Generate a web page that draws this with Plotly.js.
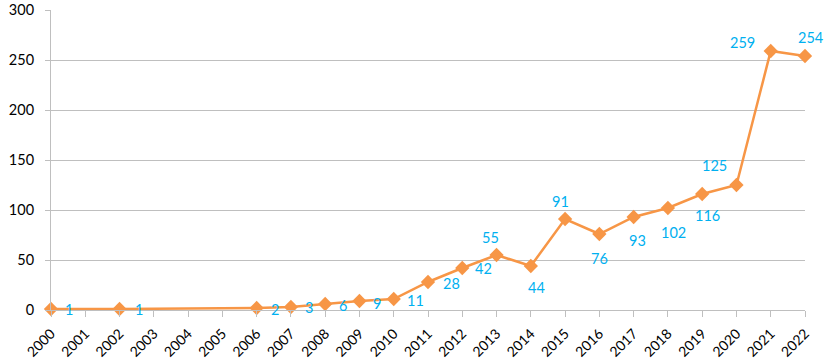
<!DOCTYPE html>
<html>
<head>
<meta charset="utf-8">
<script src="https://cdn.plot.ly/plotly-3.0.1.min.js"></script>
<style>html,body{margin:0;padding:0;background:#fff;}#chart{width:830px;height:363px;}</style>
</head>
<body>
<div id="chart"></div>
<script>
const years = [2000, 2002, 2006, 2007, 2008, 2009, 2010, 2011, 2012, 2013, 2014, 2015, 2016, 2017, 2018, 2019, 2020, 2021, 2022];
const counts = [1, 1, 2, 3, 6, 9, 11, 28, 42, 55, 44, 91, 76, 93, 102, 116, 125, 259, 254];
const tickYears = [2000,2001,2002,2003,2004,2005,2006,2007,2008,2009,2010,2011,2012,2013,2014,2015,2016,2017,2018,2019,2020,2021,2022];
// label offsets in pixels (style only)
const labelDx = [18, 19, 18, 18, 18, 18, 22, 23, 21, -6, 6, -5, 0, 4, 6, 5, -22, -28, 5];
const labelDy = [0, 0, -1, 0, -1, -2, -1, -1, 0, 18, -21, 18, -24, -23, -24, -21, 20, 9, 19];

const font = "Lato, 'Open Sans', 'Liberation Sans', sans-serif";
const trace = {
  x: years, y: counts, type: 'scatter', mode: 'lines+markers',
  line: {color: '#F79646', width: 2.5},
  marker: {symbol: 'diamond', size: 11, color: '#F79646'},
  cliponaxis: false, hoverinfo: 'x+y'
};
const annotations = years.map((yr, i) => ({
  x: yr, y: counts[i], xref: 'x', yref: 'y', text: String(counts[i]),
  showarrow: false, xshift: labelDx[i], yshift: labelDy[i],
  xanchor: 'center', yanchor: 'middle',
  font: {family: font, size: 14.5, color: '#00B0F0'}
}));
const layout = {
  width: 830, height: 363,
  margin: {l: 51, r: 25, t: 10, b: 53},
  paper_bgcolor: '#fff', plot_bgcolor: '#fff',
  showlegend: false,
  font: {family: font, size: 14.5, color: '#000'},
  annotations: annotations,
  xaxis: {
    type: 'linear', range: [2000, 2022], tickvals: tickYears, ticktext: tickYears.map(String),
    tickangle: -45, showgrid: false, zeroline: false, automargin: false,
    showline: true, linecolor: '#BFBFBF', linewidth: 1,
    ticks: 'outside', ticklen: 6, tickcolor: '#BFBFBF', ticklabelstandoff: 3,
    tickfont: {family: font, size: 14, color: '#000'}
  },
  yaxis: {
    range: [0, 300], dtick: 50, showgrid: true, gridcolor: '#BFBFBF', gridwidth: 1,
    zeroline: false, showline: true, linecolor: '#BFBFBF', linewidth: 1, automargin: false,
    ticks: 'outside', ticklen: 5, tickcolor: '#BFBFBF', ticklabelstandoff: 8,
    tickfont: {family: font, size: 14.5, color: '#000'}
  }
};
Plotly.newPlot('chart', [trace], layout, {displayModeBar: false, staticPlot: true});
</script>
</body>
</html>
